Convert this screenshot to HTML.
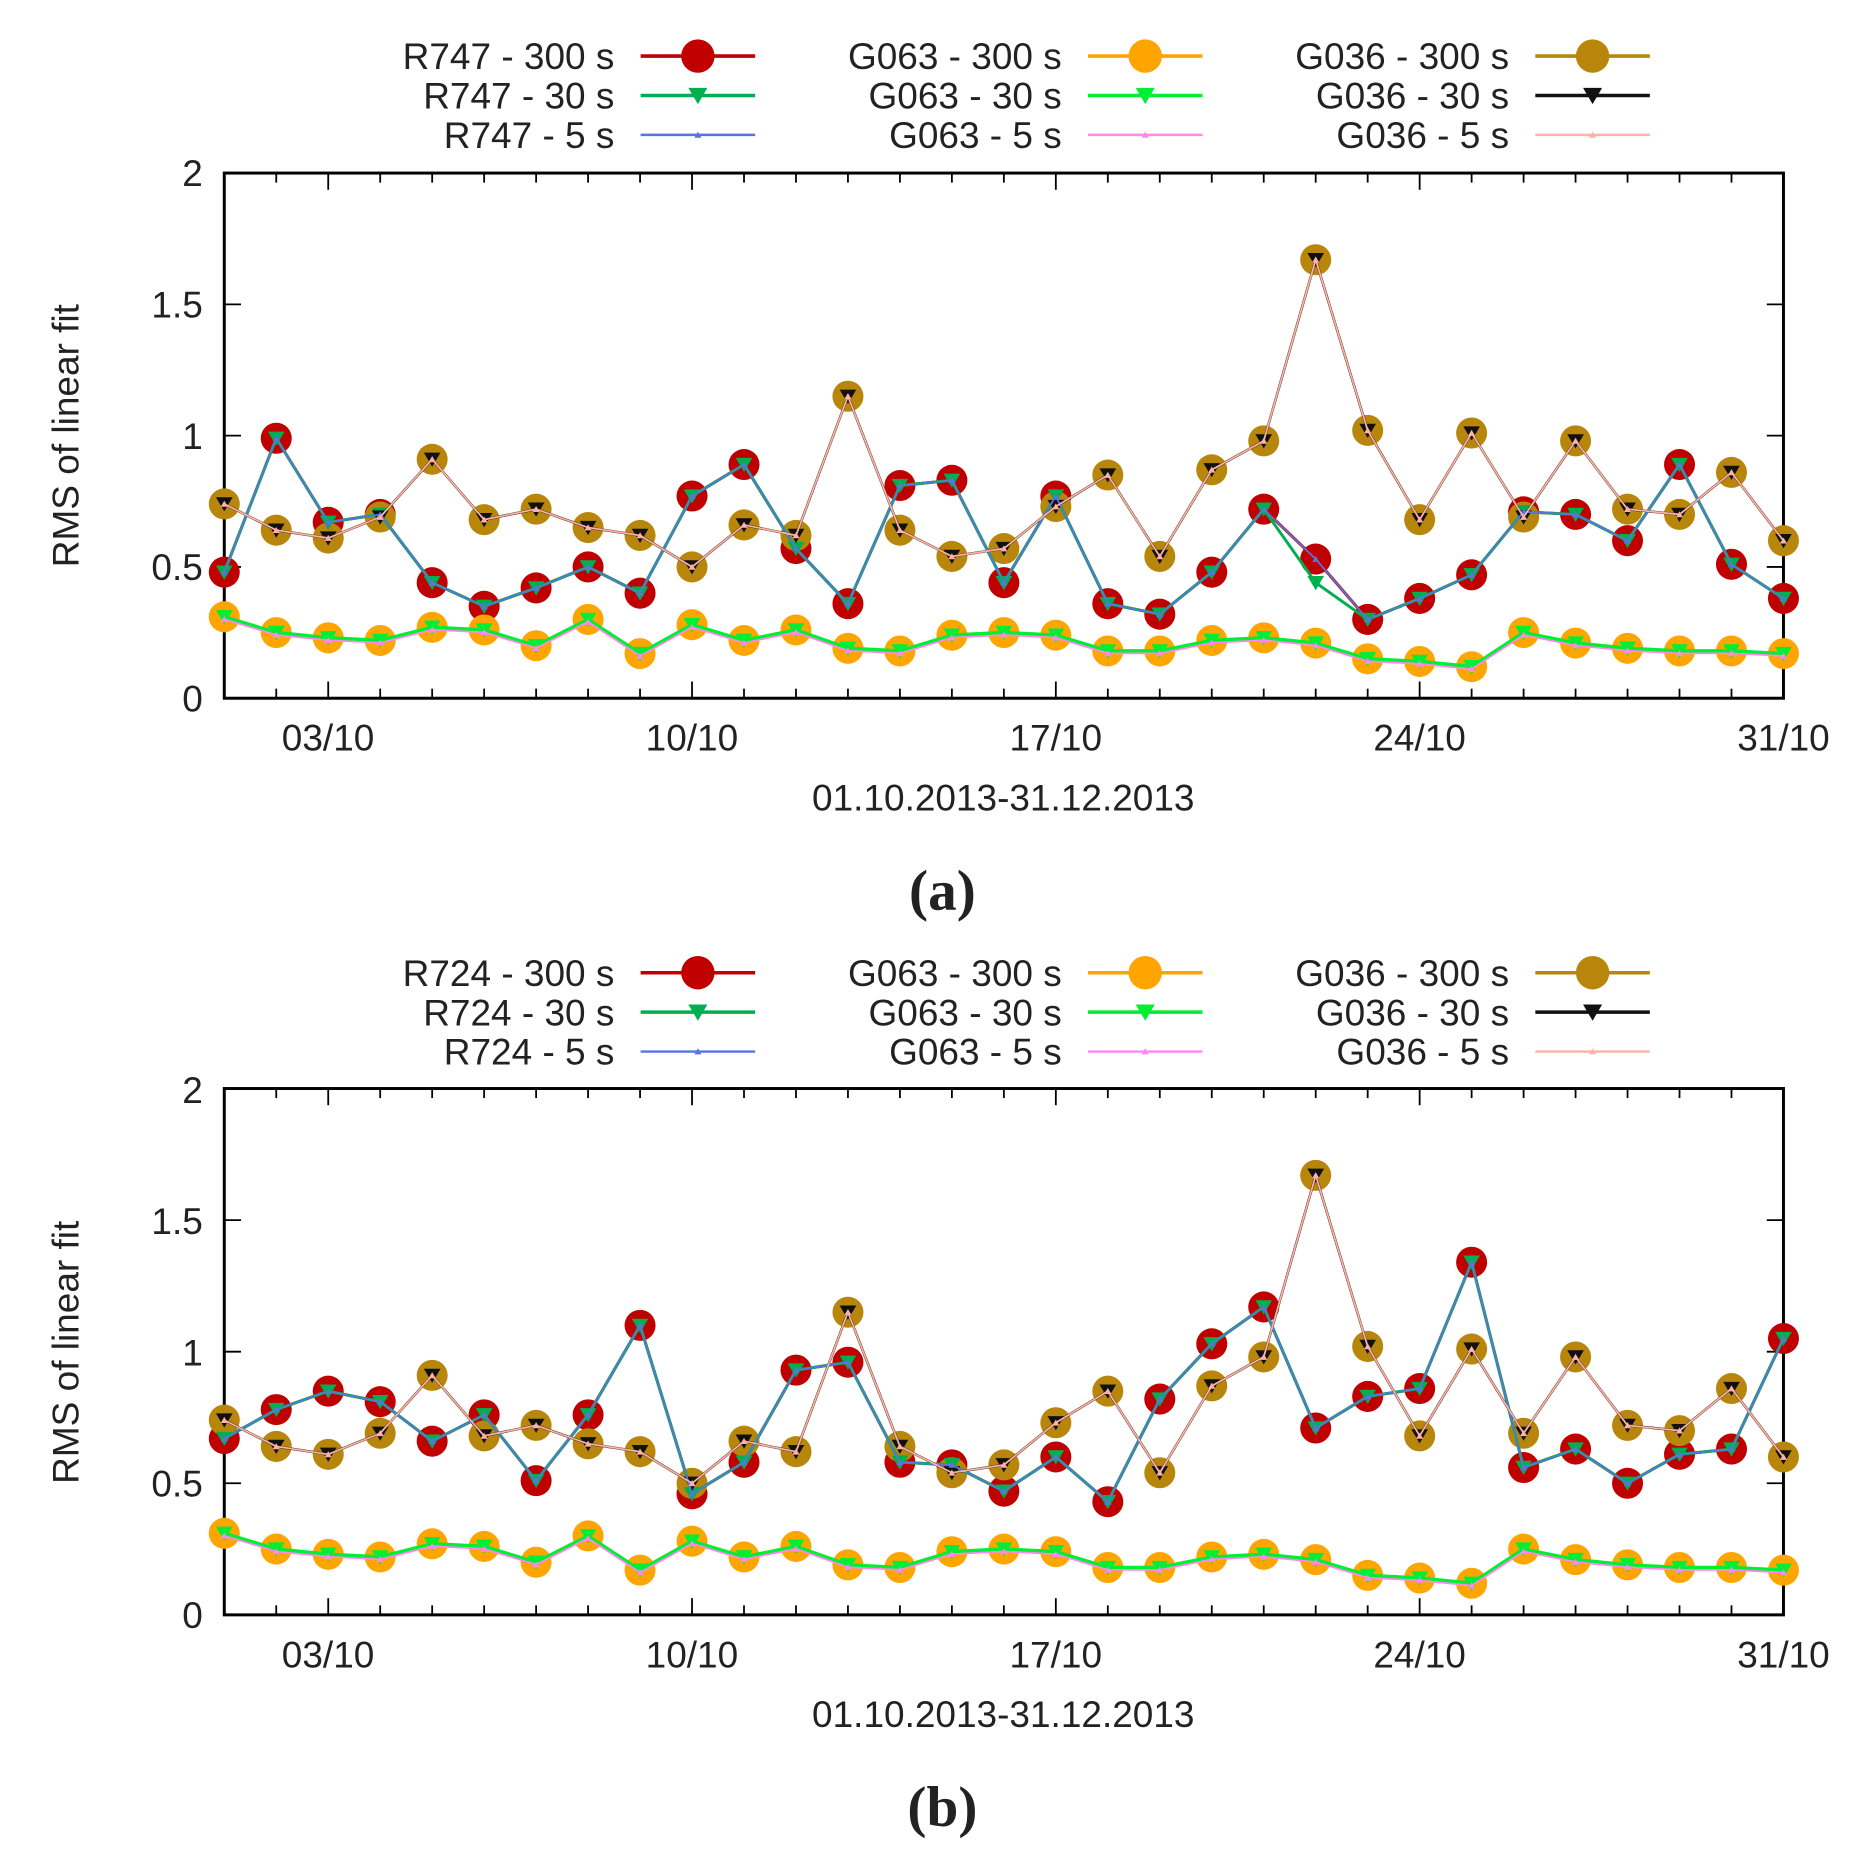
<!DOCTYPE html>
<html><head><meta charset="utf-8"><style>
html,body{margin:0;padding:0;background:#fff}
svg{display:block}
text{font-family:"Liberation Sans",sans-serif;fill:#222}
</style></head><body>
<svg id="s" width="1861" height="1850" viewBox="0 0 1560 1550" preserveAspectRatio="none" xmlns="http://www.w3.org/2000/svg">
<g font-size="31">
<text x="515" y="58" text-anchor="end">R747 - 300 s</text>
<text x="515" y="91" text-anchor="end">R747 - 30 s</text>
<text x="515" y="124" text-anchor="end">R747 - 5 s</text>
<text x="890" y="58" text-anchor="end">G063 - 300 s</text>
<text x="890" y="91" text-anchor="end">G063 - 30 s</text>
<text x="890" y="124" text-anchor="end">G063 - 5 s</text>
<text x="1265" y="58" text-anchor="end">G036 - 300 s</text>
<text x="1265" y="91" text-anchor="end">G036 - 30 s</text>
<text x="1265" y="124" text-anchor="end">G036 - 5 s</text>
<text x="515" y="826" text-anchor="end">R724 - 300 s</text>
<text x="515" y="859" text-anchor="end">R724 - 30 s</text>
<text x="515" y="892" text-anchor="end">R724 - 5 s</text>
<text x="890" y="826" text-anchor="end">G063 - 300 s</text>
<text x="890" y="859" text-anchor="end">G063 - 30 s</text>
<text x="890" y="892" text-anchor="end">G063 - 5 s</text>
<text x="1265" y="826" text-anchor="end">G036 - 300 s</text>
<text x="1265" y="859" text-anchor="end">G036 - 30 s</text>
<text x="1265" y="892" text-anchor="end">G036 - 5 s</text>
<text x="170" y="596" text-anchor="end">0</text>
<text x="170" y="486" text-anchor="end">0.5</text>
<text x="170" y="376" text-anchor="end">1</text>
<text x="170" y="266" text-anchor="end">1.5</text>
<text x="170" y="156" text-anchor="end">2</text>
<text x="170" y="1364" text-anchor="end">0</text>
<text x="170" y="1254" text-anchor="end">0.5</text>
<text x="170" y="1144" text-anchor="end">1</text>
<text x="170" y="1034" text-anchor="end">1.5</text>
<text x="170" y="924" text-anchor="end">2</text>
<text x="275" y="629" text-anchor="middle">03/10</text>
<text x="580" y="629" text-anchor="middle">10/10</text>
<text x="885" y="629" text-anchor="middle">17/10</text>
<text x="1190" y="629" text-anchor="middle">24/10</text>
<text x="1495" y="629" text-anchor="middle">31/10</text>
<text x="275" y="1397" text-anchor="middle">03/10</text>
<text x="580" y="1397" text-anchor="middle">10/10</text>
<text x="885" y="1397" text-anchor="middle">17/10</text>
<text x="1190" y="1397" text-anchor="middle">24/10</text>
<text x="1495" y="1397" text-anchor="middle">31/10</text>
<text x="841" y="679" text-anchor="middle">01.10.2013-31.12.2013</text>
<text x="841" y="1447" text-anchor="middle">01.10.2013-31.12.2013</text>
<text transform="translate(66,365) rotate(-90)" text-anchor="middle">RMS of linear fit</text>
<text transform="translate(66,1133) rotate(-90)" text-anchor="middle">RMS of linear fit</text>
</g>
<text x="790" y="762" text-anchor="middle" font-size="48" font-weight="bold" style="font-family:'Liberation Serif',serif">(a)</text>
<text x="790" y="1530" text-anchor="middle" font-size="48" font-weight="bold" style="font-family:'Liberation Serif',serif">(b)</text>
<g id="g"></g>
</svg>
<script>
var NS="http://www.w3.org/2000/svg",G=document.getElementById('g');
function el(t,a){var e=document.createElementNS(NS,t);for(var k in a)e.setAttribute(k,a[k]);G.appendChild(e);return e;}
var L=188,R=1495,dx=(R-L)/30;
var Ra=[0.48,0.99,0.67,0.70,0.44,0.35,0.42,0.50,0.40,0.77,0.89,0.57,0.36,0.81,0.83,0.44,0.77,0.36,0.32,0.48,0.72,0.53,0.30,0.38,0.47,0.71,0.70,0.60,0.89,0.51,0.38];
var Ra30=Ra.slice();Ra30[21]=0.44;
var Rb=[0.67,0.78,0.85,0.81,0.66,0.76,0.51,0.76,1.10,0.46,0.58,0.93,0.96,0.58,0.57,0.47,0.60,0.43,0.82,1.03,1.17,0.71,0.83,0.86,1.34,0.56,0.63,0.50,0.61,0.63,1.05];
var Go=[0.31,0.25,0.23,0.22,0.27,0.26,0.20,0.30,0.17,0.28,0.22,0.26,0.19,0.18,0.24,0.25,0.24,0.18,0.18,0.22,0.23,0.21,0.15,0.14,0.12,0.25,0.21,0.19,0.18,0.18,0.17];
var Gb=[0.74,0.64,0.61,0.69,0.91,0.68,0.72,0.65,0.62,0.50,0.66,0.62,1.15,0.64,0.54,0.57,0.73,0.85,0.54,0.87,0.98,1.67,1.02,0.68,1.01,0.69,0.98,0.72,0.70,0.86,0.60];
function tri(x,y,s,c,down){var p=down?[[x-s,y-s*0.8],[x+s,y-s*0.8],[x,y+s*0.9]]:[[x-s,y+s*0.8],[x+s,y+s*0.8],[x,y-s*0.9]];el('polygon',{points:p.map(function(q){return q.join(',')}).join(' '),fill:c});}
function series(d,B,sc,col,w,mk,r,off){
  var pts=d.map(function(v,i){return [L+i*dx,B-v*sc+(off||0)];});
  el('polyline',{points:pts.map(function(p){return p.join(',')}).join(' '),fill:'none',stroke:col,'stroke-width':w});
  pts.forEach(function(p){
    if(mk=='c')el('circle',{cx:p[0],cy:p[1],r:r,fill:col});
    else if(mk=='d')tri(p[0],p[1],r,col,true);
    else if(mk=='u')tri(p[0],p[1],r,col,false);
  });
}
function panel(T,B,Rs,Rs30){
  var sc=(B-T)/2;
  el('rect',{x:L,y:T,width:R-L,height:B-T,fill:'none',stroke:'#000','stroke-width':2.5});
  for(var i=0;i<=30;i++){var x=L+i*dx,len=((i-2)%7==0)?14:8;
    el('line',{x1:x,y1:B,x2:x,y2:B-len,stroke:'#000','stroke-width':1.5});
    el('line',{x1:x,y1:T,x2:x,y2:T+len,stroke:'#000','stroke-width':1.5});}
  for(var j=1;j<4;j++){var y=B-j*0.5*sc;
    el('line',{x1:L,y1:y,x2:L+14,y2:y,stroke:'#000','stroke-width':1.5});
    el('line',{x1:R,y1:y,x2:R-14,y2:y,stroke:'#000','stroke-width':1.5});}
  series(Rs,B,sc,'#c00000',2.5,'c',13);
  series(Go,B,sc,'#ffa500',2,'c',13);
  series(Gb,B,sc,'#b8860b',2,'c',13);
  series(Rs30,B,sc,'#00b050',2.5,'d',7);
  series(Go,B,sc,'#00ee33',3,'d',7);
  series(Gb,B,sc,'#111',2,'d',7);
  series(Rs,B,sc,'#5577dd',1.5,'u',3);
  series(Go,B,sc,'#ff88ee',1.5,'u',3,2);
  series(Gb,B,sc,'#ffb0a8',1.5,'u',3);
}
panel(145,585,Ra,Ra30);
panel(912,1353,Rb,Rb);
function leg(y0){
  var cols=[[537,'#c00000','#00b050','#5577dd'],[912,'#ffa500','#00ee33','#ff88ee'],[1287,'#b8860b','#111','#ffb0a8']];
  cols.forEach(function(c){var x=c[0],m=x+48;
    el('line',{x1:x,y1:y0,x2:x+96,y2:y0,stroke:c[1],'stroke-width':3});el('circle',{cx:m,cy:y0,r:14,fill:c[1]});
    el('line',{x1:x,y1:y0+33,x2:x+96,y2:y0+33,stroke:c[2],'stroke-width':3});tri(m,y0+33,8,c[2],true);
    el('line',{x1:x,y1:y0+66,x2:x+96,y2:y0+66,stroke:c[3],'stroke-width':2});tri(m,y0+66,3,c[3],false);
  });
}
leg(47);leg(815);
</script>
</body></html>
